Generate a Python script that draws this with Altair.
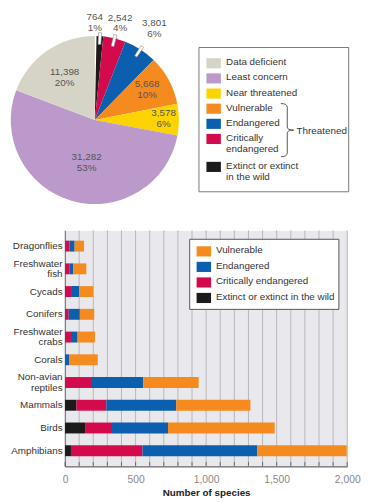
import altair as alt
import pandas as pd

FONT = "Liberation Sans"

# ---------------- data ----------------
pie_status = ["Extinct or extinct in the wild", "Critically endangered", "Endangered",
              "Vulnerable", "Near threatened", "Least concern", "Data deficient"]
pie_counts = [764, 2542, 3801, 5668, 3578, 31282, 11398]
pie_pcts = ["1%", "4%", "6%", "10%", "6%", "53%", "20%"]

groups = ["Dragonflies", "Freshwater fish", "Cycads", "Conifers", "Freshwater crabs",
          "Corals", "Non-avian reptiles", "Mammals", "Birds", "Amphibians"]
extinct = [1, 0, 4, 0, 0, 0, 0, 81, 142, 42]
critically = [30, 30, 45, 26, 42, 6, 184, 212, 191, 507]
endangered = [37, 28, 51, 79, 47, 25, 370, 495, 397, 814]
vulnerable = [67, 93, 100, 102, 123, 201, 393, 526, 756, 633]
x_grid = list(range(0, 2001, 100))
x_labels = [0, 500, 1000, 1500, 2000]

pie_legend = ["Data deficient", "Least concern", "Near threatened", "Vulnerable",
              "Endangered", "Critically\nendangered", "Extinct or extinct\nin the wild"]
bar_legend = ["Vulnerable", "Endangered", "Critically endangered", "Extinct or extinct in the wild"]

# ---------------- styles ----------------
colors = {
    "Extinct or extinct in the wild": "#1c1a1b",
    "Critically endangered": "#d30b4c",
    "Endangered": "#0b5fae",
    "Vulnerable": "#f58a1f",
    "Near threatened": "#fdd400",
    "Least concern": "#bb9acb",
    "Data deficient": "#d6d4c7",
}
# label placement (radius in px, angular nudge in degrees)
label_radius = {
    "Extinct or extinct in the wild": 98, "Critically endangered": 101, "Endangered": 110,
    "Vulnerable": 61, "Near threatened": 70, "Least concern": 45, "Data deficient": 52,
}
label_nudge = {
    "Extinct or extinct in the wild": -3.5, "Critically endangered": 1.2, "Endangered": 0.6,
    "Vulnerable": -0.9, "Near threatened": 0.0, "Least concern": -5.0, "Data deficient": -1.5,
}
W, H = 287, 240
PCX, PCY, R = 30.3, -112.3, 85.5

# ---------------- pie ----------------
total = sum(pie_counts)
pie_df = pd.DataFrame({"status": pie_status, "count": pie_counts, "pct": pie_pcts})
pie_df["ord"] = range(len(pie_df))
pie_df["hex"] = [colors[s] for s in pie_status]
pie_df["lab"] = [f"{c:,}\n{p}" for c, p in zip(pie_counts, pie_pcts)]
pie_df["lr"] = [label_radius[s] for s in pie_status]
pie_df["mid"] = pie_df["count"].cumsum() - pie_df["count"] / 2
pie_df["lmid"] = pie_df["mid"] + [label_nudge[s] / 360 * total for s in pie_status]

arc = alt.Chart(pie_df).mark_arc(radius=R).encode(
    theta=alt.Theta("count:Q", stack=True),
    order=alt.Order("ord:Q"),
    fill=alt.Fill("hex:N", scale=None),
    x=alt.value(PCX), y=alt.value(PCY),
)

hw = 170
leader_df = pie_df.iloc[:3].copy()
leader_df["t0"] = leader_df["mid"] - hw
leader_df["t1"] = leader_df["mid"] + hw
leaders = alt.Chart(leader_df).mark_arc(radius=77, radius2=89, fill="white",
                                         stroke="#8a8a8a", strokeWidth=0.6).encode(
    theta=alt.Theta("t0:Q", stack=False), theta2="t1:Q",
    x=alt.value(PCX), y=alt.value(PCY),
)

pie_text = alt.Chart(pie_df).mark_text(lineBreak="\n", fontSize=10, lineHeight=11, dy=-6.5,
                                       color="#555", font=FONT, baseline="middle").encode(
    theta=alt.Theta("lmid:Q", stack=False),
    radius=alt.Radius("lr:Q", scale=None),
    text="lab:N",
    x=alt.value(PCX), y=alt.value(PCY),
)

one = pd.DataFrame({"a": [0]})

def box(x0, x1, y0, y1, stroke):
    return alt.Chart(one).mark_rect(fill="white", stroke=stroke, strokeWidth=1).encode(
        x=alt.value(x0), x2=alt.value(x1), y=alt.value(y0), y2=alt.value(y1))

def swatch(x0, x1, cy, hh, col):
    return alt.Chart(one).mark_rect(fill=col).encode(
        x=alt.value(x0), x2=alt.value(x1), y=alt.value(cy - hh), y2=alt.value(cy + hh))

def label(x, cy, txt):
    return alt.Chart(one).mark_text(text=txt, align="left", baseline="top", lineBreak="\n",
                                    fontSize=10, lineHeight=11, color="#333", font=FONT).encode(
        x=alt.value(x), y=alt.value(cy - 6))

legend_layers = [box(136.2, 288.5, -186, -39.3, "#777")]
leg_status = ["Data deficient", "Least concern", "Near threatened", "Vulnerable",
              "Endangered", "Critically endangered", "Extinct or extinct in the wild"]
cy = -170
for st, txt in zip(leg_status, pie_legend):
    legend_layers.append(swatch(143.8, 158.5, cy, 5.15, colors[st]))
    legend_layers.append(label(163.8, cy, txt))
    cy += 15.4 + 13 * txt.count("\n")

BRACE = "M-0.24,-1 Q0,-1 0,-0.86 L0,-0.12 Q0,0 0.24,0 Q0,0 0,0.12 L0,0.86 Q0,1 -0.24,1"
brace = alt.Chart(one).mark_point(shape=BRACE, size=2916, filled=False, stroke="#444",
                                  strokeWidth=0.9, opacity=1).encode(
    x=alt.value(226), y=alt.value(-102))
threat = alt.Chart(one).mark_text(text="Threatened", align="left", baseline="middle",
                                  fontSize=10, color="#333", font=FONT).encode(
    x=alt.value(235.5), y=alt.value(-101))

# ---------------- bars ----------------
order_status = ["Extinct or extinct in the wild", "Critically endangered", "Endangered", "Vulnerable"]
rows = []
for i, g in enumerate(groups):
    for k, (st, arr) in enumerate(zip(order_status, [extinct, critically, endangered, vulnerable])):
        rows.append({"group": g, "status": st, "value": arr[i], "sorder": k, "hex": colors[st]})
bar_df = pd.DataFrame(rows)

x_axis = alt.Axis(values=x_labels, ticks=False, grid=False, labelFlush=False,
                  labelExpr="format(datum.value, ',')", labelPadding=8, labelColor="#888",
                  labelFontSize=10.5,
                  title="Number of species", titleFontSize=10, titleFontWeight="bold",
                  titleColor="#222", titlePadding=3, domainColor="#444")
x_scale = alt.Scale(domain=[0, 2000], nice=False)

bars = alt.Chart(bar_df).mark_bar().encode(
    x=alt.X("value:Q", stack="zero", scale=x_scale, axis=x_axis),
    y=alt.Y("group:N", sort=groups,
            scale=alt.Scale(paddingInner=0.52, paddingOuter=0.45),
            axis=alt.Axis(title=None, ticks=False, labelPadding=3, grid=False,
                          labelExpr="split(datum.label, ' ')", labelLineHeight=10.5,
                          labelOffset={"condition": {"test": "indexof(datum.value, ' ') >= 0",
                                                     "value": -5.25}, "value": 0},
                          labelColor="#333", labelFontSize=10, domainColor="#444")),
    fill=alt.Fill("hex:N", scale=None),
    order=alt.Order("sorder:Q"),
)

grid_df = pd.DataFrame({"value": x_grid})
grid = alt.Chart(grid_df).mark_rule(color="#b6b6bd", strokeWidth=1).encode(
    x=alt.X("value:Q", stack=False, scale=x_scale, axis=x_axis),
    y=alt.value(0), y2=alt.value(H))
ticks = alt.Chart(grid_df).mark_rule(color="#555", strokeWidth=0.8).encode(
    x=alt.X("value:Q", stack=False, scale=x_scale, axis=x_axis),
    y=alt.value(H), y2=alt.value(H - 4.5))

bar_leg = [box(126.8, 278.5, 9, 80.3, "#555")]
cy = 21.3
for st in bar_legend:
    bar_leg.append(swatch(133.8, 148.5, cy, 5.15, colors[st]))
    bar_leg.append(label(153.5, cy, st))
    cy += 15.8

chart = alt.layer(
    grid, bars, ticks, *bar_leg, arc, leaders, pie_text, *legend_layers, brace, threat
).properties(
    width=W, height=H, padding={"left": 2, "top": 0, "right": 0, "bottom": 0},
    background="white",
).configure_view(
    fill="#e9e9ed", stroke="transparent"
).configure_axis(
    labelFont=FONT, titleFont=FONT,
).configure_text(font=FONT)

chart.save("out.html", embed_options={"renderer": "svg", "actions": False})
